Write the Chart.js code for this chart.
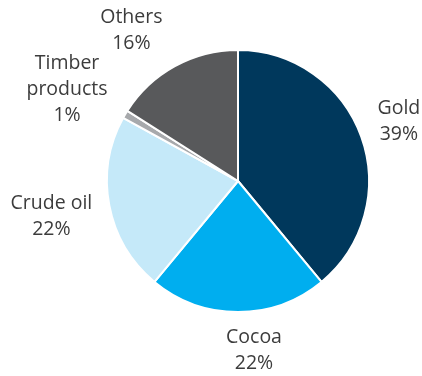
<!DOCTYPE html>
<html>
<head>
<meta charset="utf-8">
<script src="https://cdn.jsdelivr.net/npm/chart.js@4/dist/chart.umd.min.js"></script>
<style>
  html, body { margin: 0; padding: 0; background: #ffffff; }
  #wrap { width: 422px; height: 376px; position: relative; }
</style>
</head>
<body>
<div id="wrap"><canvas id="pie"></canvas></div>
<script>
// Export shares by commodity (%)
const categories = ["Gold", "Cocoa", "Crude oil", "Timber products", "Others"];
const shares = [39, 22, 22, 1, 16];
const sliceColors = ["#00385c", "#00aeef", "#c5e9f9", "#a7a9ac", "#58595b"];

// Label text split over lines, plus placement around each slice
const labelLines = [["Gold"], ["Cocoa"], ["Crude oil"], ["Timber", "products"], ["Others"]];
const labelGap = [40, 38, 59, 63, 53];
const labelNudge = [[0, -2], [16, 0], [0, 0], [-4, 7], [-18, 11]];

const sliceLabels = {
  id: "sliceLabels",
  afterDatasetsDraw(chart) {
    const ctx = chart.ctx;
    const meta = chart.getDatasetMeta(0);
    ctx.save();
    ctx.font = '19.5px "Open Sans", "Noto Sans", sans-serif';
    ctx.fillStyle = "#3c3c3c";
    ctx.textAlign = "center";
    ctx.textBaseline = "middle";
    const lh = 26;
    meta.data.forEach((arc, i) => {
      const p = arc.getProps(["x", "y", "startAngle", "endAngle", "outerRadius"], true);
      const mid = (p.startAngle + p.endAngle) / 2;
      const d = p.outerRadius + labelGap[i];
      const cx = p.x + Math.cos(mid) * d + labelNudge[i][0];
      const cy = p.y + Math.sin(mid) * d + labelNudge[i][1];
      const lines = labelLines[i].concat([shares[i] + "%"]);
      const top = cy - (lines.length - 1) * lh / 2;
      lines.forEach((t, k) => ctx.fillText(t, cx, top + k * lh));
    });
    ctx.restore();
  }
};

new Chart(document.getElementById("pie"), {
  type: "pie",
  data: {
    labels: categories,
    datasets: [{
      data: shares,
      backgroundColor: sliceColors,
      borderColor: "#ffffff",
      borderWidth: 2
    }]
  },
  options: {
    responsive: true,
    maintainAspectRatio: false,
    animation: false,
    layout: { padding: { left: 106, right: 52, top: 49, bottom: 63 } },
    plugins: {
      legend: { display: false },
      tooltip: { enabled: false }
    }
  },
  plugins: [sliceLabels]
});
</script>
</body>
</html>
